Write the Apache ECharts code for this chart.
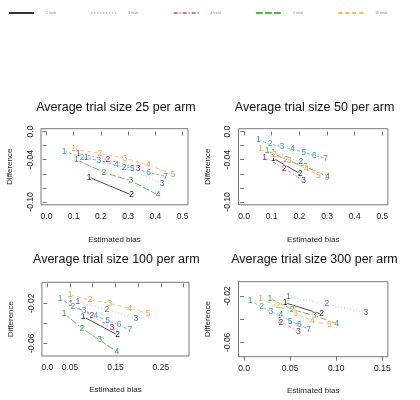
<!DOCTYPE html>
<html><head><meta charset="utf-8">
<script src="https://cdn.jsdelivr.net/npm/echarts@6/dist/echarts.min.js"></script>
<style>html,body{margin:0;padding:0;background:#fff}#c{width:420px;height:400px}</style>
</head><body><div id="c"></div>
<script>
// ---- data (estimated bias, difference) ----
const seriesNames = ['2 trials', '3 trials', '4 trials', '5 trials', '10 trials', '15 trials'];
const panelTitles = ['Average trial size 25 per arm', 'Average trial size 50 per arm', 'Average trial size 100 per arm', 'Average trial size 300 per arm'];

const p25Black  = [[0.157,-0.065],[0.3125,-0.090]];
const p25Slate  = [[0.147,-0.037],[0.285,-0.051],[0.425,-0.0735]];
const p25Maroon = [[0.116,-0.031],[0.226,-0.040],[0.337,-0.052]];
const p25Green  = [[0.110,-0.040],[0.211,-0.058],[0.310,-0.070],[0.41,-0.090]];
const p25Orange = [[0.100,-0.025],[0.196,-0.031],[0.288,-0.038],[0.374,-0.0475],[0.465,-0.0607]];
const p25Blue   = [[0.065,-0.028],[0.131,-0.037],[0.193,-0.041],[0.257,-0.0475],[0.316,-0.052],[0.375,-0.058],[0.4375,-0.0636]];

const p50Black  = [[0.106,-0.038],[0.203,-0.060]];
const p50Slate  = [[0.106,-0.030],[0.205,-0.043],[0.30,-0.065]];
const p50Maroon = [[0.074,-0.037],[0.146,-0.052],[0.215,-0.070]];
const p50Green  = [[0.083,-0.027],[0.152,-0.040],[0.222,-0.050],[0.302,-0.064]];
const p50Orange = [[0.060,-0.025],[0.11,-0.033],[0.163,-0.0414],[0.225,-0.053],[0.269,-0.062]];
const p50Blue   = [[0.052,-0.012],[0.094,-0.0177],[0.137,-0.0215],[0.176,-0.025],[0.215,-0.0295],[0.254,-0.034],[0.295,-0.038]];

const p100Black  = [[0.079,-0.0334],[0.155,-0.0517]];
const p100Slate  = [[0.067,-0.0184],[0.131,-0.026],[0.195,-0.0357]];
const p100Maroon = [[0.052,-0.0207],[0.098,-0.0324],[0.142,-0.0444]];
const p100Green  = [[0.037,-0.030],[0.076,-0.045],[0.115,-0.0567],[0.153,-0.0684]];
const p100Orange = [[0.050,-0.0117],[0.094,-0.0167],[0.137,-0.020],[0.181,-0.025],[0.222,-0.030]];
const p100Blue   = [[0.028,-0.015],[0.056,-0.0234],[0.081,-0.0274],[0.107,-0.0324],[0.133,-0.0374],[0.158,-0.0417],[0.182,-0.0467]];

const p300Black  = [[0.0445,-0.0258],[0.084,-0.0356]];
const p300Slate  = [[0.048,-0.0206],[0.0897,-0.027],[0.132,-0.0344]];
const p300Maroon = [[0.039,-0.0415],[0.040,-0.043],[0.059,-0.051]];
const p300Green  = [[0.028,-0.022],[0.052,-0.0315],[0.076,-0.037],[0.1005,-0.0436]];
const p300Orange = [[0.018,-0.0226],[0.037,-0.0287],[0.056,-0.035],[0.074,-0.0414],[0.0925,-0.045]];
const p300Blue   = [[0.0065,-0.024],[0.019,-0.0293],[0.029,-0.0336],[0.040,-0.0364],[0.050,-0.042],[0.060,-0.0445],[0.070,-0.0488]];

// tick values and labels
const xTicks25 = [0, 0.1, 0.2, 0.3, 0.4, 0.5];
const xLabels25 = ['0.0', '0.1', '0.2', '0.3', '0.4', '0.5'];
const yTicks25 = [0, -0.02, -0.04, -0.06, -0.08, -0.10];
const yLabels25 = ['0.0', '', '-0.04', '', '', '-0.10'];
const xTicks100 = [0, 0.05, 0.10, 0.15, 0.20, 0.25, 0.30];
const xLabels100 = ['0.0', '0.05', '', '0.15', '', '0.25', ''];
const yTicks100 = [-0.02, -0.04, -0.06];
const yLabels100 = ['-0.02', '', '-0.06'];
const xTicks300 = [0, 0.05, 0.10, 0.15];
const xLabels300 = ['0.0', '0.05', '0.10', '0.15'];
const yTicks300 = [-0.02, -0.04, -0.06];
const yLabels300 = ['-0.02', '', '-0.06'];

// ---- styling ----
const lineColors  = ['#333333', '#b4bccb', '#c77d9c', '#5cae52', '#f6b968', '#68a8ea'];
const labelColors = ['#1a1a1a', '#4f6f9f', '#8e1f50', '#3f9a3a', '#f29a3c', '#3d8fe0'];
const lineTypes = ['solid', [1, 2], [4, 2, 1, 2], [7, 2], [4, 3], [3, 2]];

const panels = [
  { title: panelTitles[0], data: [p25Black, p25Slate, p25Maroon, p25Green, p25Orange, p25Blue],
    grid: { left: 41, top: 128.7, width: 147, height: 76.1 },
    x: [-0.02, 0.52, xTicks25, xLabels25], y: [-0.104, 0.004, yTicks25, yLabels25],
    tx: 116, ty: 101, xnameGap: 31 },
  { title: panelTitles[1], data: [p50Black, p50Slate, p50Maroon, p50Green, p50Orange, p50Blue],
    grid: { left: 238.5, top: 128.7, width: 149.4, height: 76.1 },
    x: [-0.02, 0.52, xTicks25, xLabels25], y: [-0.104, 0.004, yTicks25, yLabels25],
    tx: 314.6, ty: 101, xnameGap: 31 },
  { title: panelTitles[2], data: [p100Black, p100Slate, p100Maroon, p100Green, p100Orange, p100Blue],
    grid: { left: 41.9, top: 282.3, width: 147.1, height: 73.7 },
    x: [-0.012, 0.312, xTicks100, xLabels100], y: [-0.0727, 0.001, yTicks100, yLabels100],
    tx: 116.3, ty: 253, xnameGap: 30 },
  { title: panelTitles[3], data: [p300Black, p300Slate, p300Maroon, p300Green, p300Orange, p300Blue],
    grid: { left: 238.5, top: 281.7, width: 149.4, height: 75 },
    x: [-0.006, 0.156, xTicks300, xLabels300], y: [-0.0724, -0.0076, yTicks300, yLabels300],
    tx: 314.5, ty: 253, xnameGap: 30 }
];

function fmt(ticks, labels) {
  return function (v) {
    for (let i = 0; i < ticks.length; i++) if (Math.abs(ticks[i] - v) < 1e-9) return labels[i];
    return '';
  };
}

const FONT = '"Liberation Sans", Arial, sans-serif';
const option = {
  animation: false,
  backgroundColor: '#fff',
  title: [], grid: [], xAxis: [], yAxis: [], series: [],
  legend: {
    data: seriesNames, left: 8, top: 11, width: 800, padding: 0, itemWidth: 25, itemHeight: 4, itemGap: 34,
    selectedMode: false,
    textStyle: { fontSize: 3.5, color: '#888', fontFamily: FONT, padding: [0, 0, 0, 7] }
  }
};

panels.forEach((p, i) => {
  option.title.push({
    text: p.title, left: p.tx, top: p.ty, textAlign: 'center', padding: 0,
    textStyle: { fontSize: 12.5, fontWeight: 'normal', color: '#111', fontFamily: FONT }
  });
  option.grid.push(Object.assign({ show: true, borderColor: '#555', borderWidth: 0.8, backgroundColor: 'transparent' }, p.grid));
  option.xAxis.push({
    type: 'value', gridIndex: i, min: p.x[0], max: p.x[1],
    name: 'Estimated bias', nameLocation: 'middle', nameGap: p.xnameGap,
    nameTextStyle: { fontSize: 8, color: '#222', fontFamily: FONT },
    axisLine: { show: false },
    axisTick: { show: true, length: 4, customValues: p.x[2], lineStyle: { color: '#555', width: 0.8 } },
    axisLabel: { customValues: p.x[2], formatter: fmt(p.x[2], p.x[3]), fontSize: 8.5, color: '#222', margin: 7, fontFamily: FONT },
    splitLine: { show: false }
  });
  option.yAxis.push({
    type: 'value', gridIndex: i, min: p.y[0], max: p.y[1],
    name: 'Difference', nameLocation: 'middle', nameGap: 27, nameRotate: 90,
    nameTextStyle: { fontSize: 8, color: '#222', fontFamily: FONT },
    axisLine: { show: false },
    axisTick: { show: true, length: 4, customValues: p.y[2], lineStyle: { color: '#555', width: 0.8 } },
    axisLabel: { customValues: p.y[2], formatter: fmt(p.y[2], p.y[3]), fontSize: 8.5, color: '#222', margin: 6, rotate: 90, fontFamily: FONT },
    splitLine: { show: false }
  });
  p.data.forEach((d, k) => {
    option.series.push({
      type: 'line', name: seriesNames[k], xAxisIndex: i, yAxisIndex: i,
      data: d, symbol: 'circle', symbolSize: 0.1, showSymbol: true,
      itemStyle: { color: 'rgba(0,0,0,0)' },
      lineStyle: { color: lineColors[k], width: 0.9, type: lineTypes[k] },
      label: {
        show: true, position: 'inside', formatter: (pp) => String(pp.dataIndex + 1),
        fontSize: 8.5, color: labelColors[k], fontFamily: FONT,
        textBorderColor: '#fff', textBorderWidth: 1.5
      },
      emphasis: { disabled: true }, silent: true
    });
  });
});

const chart = echarts.init(document.getElementById('c'), null, { renderer: 'canvas' });
chart.setOption(option);
</script>
</body></html>
